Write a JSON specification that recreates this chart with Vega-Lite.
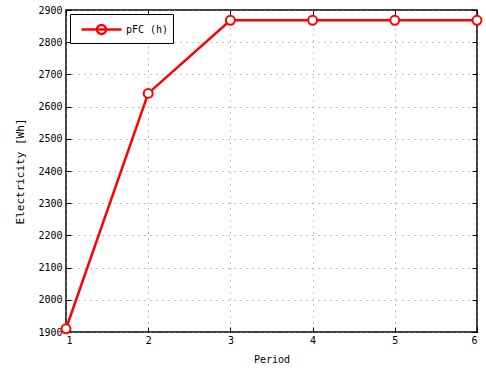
{
  "$schema": "https://vega.github.io/schema/vega-lite/v6.json",
  "autosize": {"type": "none"},
  "padding": {"left": 66, "top": 10, "right": 9, "bottom": 42},
  "width": 411,
  "height": 322,
  "background": "white",
  "config": {
    "font": "DejaVu Sans Mono",
    "view": {"stroke": "black", "strokeWidth": 1.5},
    "axis": {
      "labelFont": "DejaVu Sans Mono",
      "titleFont": "DejaVu Sans Mono",
      "labelFontSize": 10,
      "titleFontSize": 10,
      "titleFontWeight": "normal",
      "labelColor": "black",
      "titleColor": "black",
      "domain": false,
      "tickColor": "black",
      "tickSize": -5,
      "tickWidth": 1,
      "gridColor": "#888888",
      "gridDash": [1, 5],
      "gridWidth": 1,
      "gridOpacity": 1
    }
  },
  "data": {
    "values": [
      {"period": 1, "value": 1910},
      {"period": 2, "value": 2641},
      {"period": 3, "value": 2868},
      {"period": 4, "value": 2868},
      {"period": 5, "value": 2868},
      {"period": 6, "value": 2868}
    ]
  },
  "layer": [
    {
      "mark": {"type": "point", "opacity": 0},
      "encoding": {
        "x": {
          "field": "period",
          "type": "quantitative",
          "scale": {"domain": [1, 6], "nice": false},
          "axis": {"orient": "top", "title": null, "labels": false, "grid": false, "values": [1, 2, 3, 4, 5, 6]}
        },
        "y": {
          "field": "value",
          "type": "quantitative",
          "scale": {"domain": [1900, 2900], "nice": false, "zero": false},
          "axis": {"orient": "right", "title": null, "labels": false, "grid": false, "values": [1900, 2000, 2100, 2200, 2300, 2400, 2500, 2600, 2700, 2800, 2900]}
        }
      }
    },
    {
      "mark": {"type": "line", "strokeWidth": 2.5, "clip": false},
      "encoding": {
        "x": {
          "field": "period",
          "type": "quantitative",
          "scale": {"domain": [1, 6], "nice": false},
          "axis": {"orient": "bottom", "grid": true, "title": "Period", "values": [1, 2, 3, 4, 5, 6], "format": "d", "labelPadding": 8, "titlePadding": 9}
        },
        "y": {
          "field": "value",
          "type": "quantitative",
          "scale": {"domain": [1900, 2900], "nice": false, "zero": false},
          "axis": {"orient": "left", "grid": true, "title": "Electricity [Wh]", "titleFontSize": 11, "values": [1900, 2000, 2100, 2200, 2300, 2400, 2500, 2600, 2700, 2800, 2900], "format": "d", "labelPadding": 9, "titlePadding": 12}
        },
        "color": {
          "datum": "pFC (h)",
          "scale": {"range": ["#ff0000"]},
          "legend": {
            "title": null,
            "orient": "top-left",
            "offset": 4,
            "strokeColor": "black",
            "fillColor": "white",
            "padding": 4,
            "symbolType": "M -2 0 H -0.45 M 0.45 0 H 2 M -0.45 0 H 0.45 M 0.45 0 A 0.45 0.45 0 1 1 -0.45 0 A 0.45 0.45 0 1 1 0.45 0",
            "symbolSize": 400,
            "symbolOffset": 16,
            "symbolStrokeWidth": 2.5,
            "symbolFillColor": "transparent",
            "symbolStrokeColor": "#ff0000",
            "labelFontSize": 10,
            "labelFont": "DejaVu Sans Mono",
            "labelOffset": 13
          }
        }
      }
    },
    {
      "mark": {"type": "point", "shape": "circle", "size": 80, "filled": false, "fill": "white", "fillOpacity": 1, "stroke": "#ff0000", "strokeWidth": 2, "opacity": 1, "clip": false},
      "encoding": {
        "x": {"field": "period", "type": "quantitative", "axis": null},
        "y": {"field": "value", "type": "quantitative", "axis": null}
      }
    }
  ],
  "resolve": {"axis": {"x": "independent", "y": "independent"}}
}
